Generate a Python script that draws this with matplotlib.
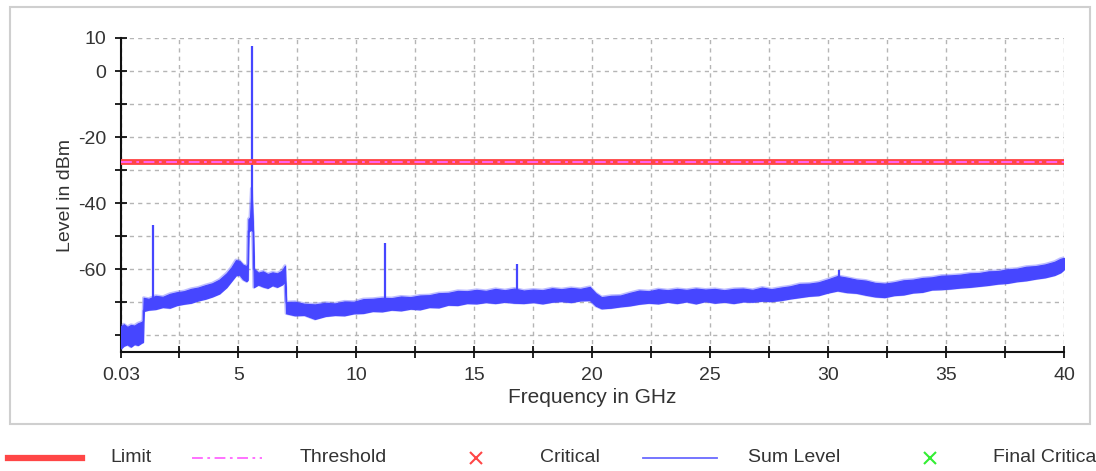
import matplotlib
matplotlib.use("Agg")
import matplotlib.pyplot as plt
from matplotlib.lines import Line2D
from matplotlib.patches import Rectangle

plt.rcParams['font.family'] = ['Liberation Sans', 'DejaVu Sans']
plt.rcParams['axes.unicode_minus'] = False

freq_ghz = [
    0.03, 0.15, 0.3, 0.45, 0.6, 0.75, 0.9, 0.96,
    0.99, 1.2, 1.5, 1.8, 2.1, 2.4, 2.7, 3.0, 3.3, 3.6, 3.9, 4.2, 4.5, 4.7, 4.9, 5.05, 5.2, 5.35, 5.40,
    5.43, 5.5, 5.56, 5.62,
    5.66, 5.85, 6.05, 6.25, 6.45, 6.65, 6.85, 6.98,
    7.03, 7.4, 7.8, 8.25, 8.7, 9.1, 9.5, 9.9, 10.3, 10.7, 11.1, 11.5, 11.9, 12.3, 12.7, 13.1, 13.5,
    13.9, 14.3, 14.7, 15.1, 15.5, 15.9, 16.3, 16.7, 17.1, 17.5, 17.9, 18.3, 18.7, 19.1, 19.5, 19.9,
    20.15, 20.4, 20.8, 21.2, 21.6, 22.0, 22.4, 22.8, 23.2, 23.6, 24.0, 24.4, 24.8, 25.2, 25.6, 26.0,
    26.4, 26.8, 27.2, 27.6, 28.0, 28.4, 28.8, 29.2, 29.6,
    30.0, 30.4, 30.8, 31.2, 31.6, 32.0, 32.4, 32.8, 33.2, 33.6, 34.0, 34.4, 34.8, 35.2, 35.6, 36.0,
    36.4, 36.8, 37.2, 37.6, 38.0, 38.4, 38.8, 39.2, 39.6, 39.85, 40.0,
]
level_upper = [
    -77.2, -76.6, -77.4, -76.8, -77.0, -76.3, -75.9, -75.6,
    -68.6, -68.9, -68.0, -68.3, -67.4, -66.9, -66.6, -65.9, -65.5, -64.8, -64.2, -63.1, -61.2, -59.5, -57.2, -57.4, -58.6, -59.0, -58.4,
    -44.8, -44.2, -35.5, -45.5,
    -59.8, -61.0, -60.6, -61.4, -60.9, -61.2, -60.4, -58.9,
    -69.9, -69.8, -70.4, -70.6, -70.1, -70.3, -69.7, -69.8, -69.0, -68.9, -68.6, -68.7, -68.2, -68.4, -67.9, -67.8, -67.2,
    -67.1, -66.5, -66.6, -66.2, -66.5, -65.9, -66.3, -65.8, -66.4, -66.1, -66.3, -65.7, -66.0, -65.6, -65.9, -65.3,
    -67.2, -68.4, -68.0, -67.9, -67.1, -66.4, -66.6, -66.0, -66.3, -65.9, -66.2, -65.8, -66.1, -65.9, -66.3, -65.9,
    -65.8, -66.2, -65.5, -66.0, -65.5, -65.1, -64.4, -64.3, -63.9,
    -63.0, -62.0, -62.5, -63.1, -63.4, -64.1, -64.3, -63.9, -63.3, -63.1, -62.6, -62.4, -61.9, -61.8, -61.6, -61.2,
    -61.1, -60.6, -60.5, -60.0, -59.8, -59.2, -59.0, -58.5, -57.7, -56.8, -56.5,
]
level_lower = [
    -83.9, -83.1, -82.7, -83.4, -82.6, -82.9, -82.2, -82.0,
    -72.6, -72.2, -72.0, -71.4, -71.6, -70.8, -70.4, -70.1, -69.4, -68.9, -68.2, -67.3, -65.4, -63.6, -61.8, -61.6, -63.0, -63.6, -63.2,
    -48.6, -48.2, -48.0, -48.6,
    -65.4, -64.6, -65.2, -65.6, -64.8, -65.3, -64.6, -63.8,
    -73.3, -73.9, -73.8, -75.0, -74.1, -73.8, -73.9, -73.3, -73.2, -72.6, -72.7, -72.2, -72.4, -71.9, -72.1, -71.4, -71.5,
    -70.7, -70.8, -70.2, -70.3, -69.9, -70.2, -69.8, -70.1, -70.2, -69.9, -70.3, -69.8, -69.6, -69.9, -69.4, -69.3,
    -71.0, -71.8, -71.6, -71.2, -70.9, -70.4, -70.1, -70.3, -69.8, -70.2, -69.7, -70.3, -69.6, -70.1, -69.8, -70.2,
    -69.7, -69.8, -69.5, -69.6, -69.3, -68.8, -68.4, -68.0, -67.8,
    -67.0, -66.4, -66.9, -67.1, -67.7, -68.2, -68.4, -67.8, -67.6, -67.0, -66.8, -66.1, -66.0, -65.8, -65.5, -65.3,
    -65.0, -64.7, -64.3, -64.1, -63.6, -63.3, -62.8, -62.4, -61.7, -60.9, -60.0,
]

# narrow spurs on top of the trace
spike_freq = [1.40, 5.58, 11.20, 16.80, 30.45]
spike_base = [-70.5, -48.0, -70.6, -68.0, -64.3]
spike_top = [-46.7, 7.6, -52.0, -58.3, -60.2]

limit_level = -27.5
threshold_level = -27.5

x_ticks = [0.03, 2.5, 5, 7.5, 10, 12.5, 15, 17.5, 20, 22.5, 25, 27.5, 30, 32.5, 35, 37.5, 40]
x_labels = ['0.03', '', '5', '', '10', '', '15', '', '20', '', '25', '', '30', '', '35', '', '40']
y_ticks = [-80, -70, -60, -50, -40, -30, -20, -10, 0, 10]
y_labels = ['', '', '-60', '', '-40', '', '-20', '', '0', '10']

blue = '#4646ff'
red = '#ff4646'
pink = '#ff66ff'
green = '#33ee33'
txt = '#333333'

fig = plt.figure(figsize=(10.96, 4.71), dpi=100)
ax = fig.add_axes([121 / 1096, 1 - 352 / 471, (1064 - 121) / 1096, (352 - 38) / 471])

ax.fill_between(freq_ghz, level_lower, level_upper, color=blue, lw=0.8, zorder=3)
# soft, slightly fuzzy edges like the anti-aliased dense trace
ax.plot(freq_ghz, level_upper, color=blue, lw=2.2, alpha=0.35, zorder=3)
ax.plot(freq_ghz, level_lower, color=blue, lw=2.2, alpha=0.35, zorder=3)
ax.vlines(spike_freq, spike_base, spike_top, color=blue, lw=1.6, zorder=3)

ax.plot([0.03, 40], [limit_level, limit_level], color=red, lw=4.2, zorder=4)
ax.plot([0.03, 40], [threshold_level, threshold_level], color=pink, lw=1.3,
        dashes=(6, 2.5, 1.5, 2.5), zorder=5)

ax.set_xlim(0.03, 40)
ax.set_ylim(-85, 10)
ax.set_xticks(x_ticks)
ax.set_xticklabels(x_labels)
ax.set_yticks(y_ticks)
ax.set_yticklabels(y_labels)
ax.tick_params(direction='inout', length=9, width=1.3, color='#111111',
               labelsize=14, labelcolor=txt, pad=6)
ax.grid(True, color='#b5b5b5', lw=1, dashes=(3, 3))
ax.set_axisbelow(True)
for s in ['top', 'right']:
    ax.spines[s].set_visible(False)
for s in ['left', 'bottom']:
    ax.spines[s].set_linewidth(1.5)
    ax.spines[s].set_color('#111111')

ax.set_xlabel('Frequency in GHz', fontsize=15, color=txt, labelpad=3)
ax.set_ylabel('Level in dBm', fontsize=14, color=txt, labelpad=3)

# outer panel frame
fig.add_artist(Rectangle((10 / 1096, 1 - 424 / 471), 1080 / 1096, 417 / 471,
                         transform=fig.transFigure, fill=False, ec='#cfcfcf', lw=1.5))

# legend row below the panel
ly = 1 - 458 / 471
def fx(px):
    return px / 1096

fig.add_artist(Line2D([fx(8), fx(82)], [ly, ly], color=red, lw=4.5, transform=fig.transFigure))
fig.add_artist(Line2D([fx(192), fx(262)], [ly, ly], color=pink, lw=1.3,
                      dashes=(6, 2.5, 1.5, 2.5), transform=fig.transFigure))
fig.add_artist(Line2D([fx(476)], [ly], color=red, marker='x', ms=9, mew=1.5, ls='none',
                      transform=fig.transFigure))
fig.add_artist(Line2D([fx(643), fx(717)], [ly, ly], color='#6a6aff', lw=1.3, transform=fig.transFigure))
fig.add_artist(Line2D([fx(930)], [ly], color=green, marker='x', ms=9, mew=1.5, ls='none',
                      transform=fig.transFigure))
for px, label in [(110, 'Limit'), (300, 'Threshold'), (540, 'Critical'),
                  (748, 'Sum Level'), (993, 'Final Critical')]:
    fig.text(fx(px), ly, label, fontsize=14, color=txt, va='center', ha='left')

fig.savefig('out.png', dpi=100)
